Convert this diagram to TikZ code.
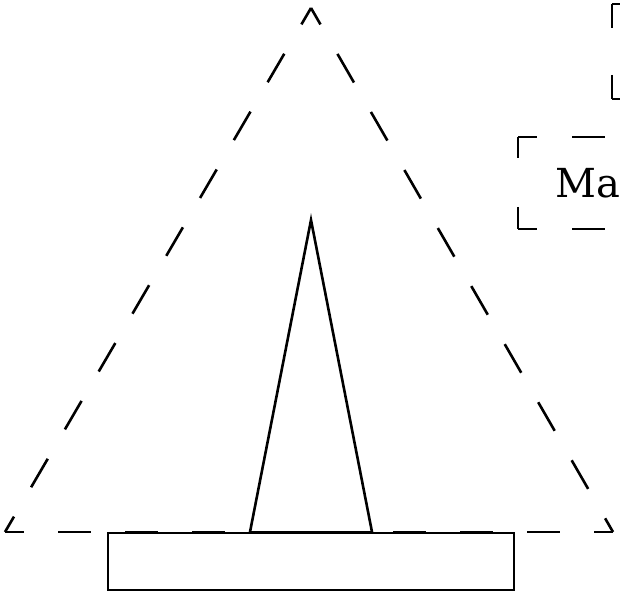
\documentclass[tikz,border=0pt]{standalone}
\usepackage{fontspec}
\newfontfamily\labelfont{DejaVu Serif}
\begin{document}
\begin{tikzpicture}[x=0.5pt,y=-0.5pt,
  ln/.style={line width=1.3pt,line cap=butt},
  tridash/.style={ln,dash pattern=on 16.5pt off 17pt},
  solidline/.style={ln,line join=miter},
  mabox/.style={ln,dash pattern=on 9.5pt off 17.5pt on 16.5pt off 40pt},
  mavert/.style={ln,dash pattern=on 10.5pt off 24.5pt on 11pt off 20pt},
  topvert/.style={ln,dash pattern=on 12pt off 23.5pt on 12pt off 20pt},
  tophor/.style={ln,dash pattern=on 12pt off 30pt},
  lbl/.style={inner sep=0pt,anchor=base west,font=\labelfont\fontsize{20}{24}\selectfont}]
\useasboundingbox (0,0) rectangle (620,597);
\clip (0,0) rectangle (620,597);
% outer dashed triangle
\coordinate (apex) at (311,8);
\coordinate (bl) at (5,532);
\coordinate (br) at (613,532);
\draw[tridash,dash phase=7pt] (bl) -- (br);
\draw[tridash,dash phase=7pt] (apex) -- (bl);
\draw[tridash,dash phase=7pt] (apex) -- (br);
% inner solid triangle
\coordinate (iapex) at (311,220);
\coordinate (ibl) at (250,532);
\coordinate (ibr) at (372,532);
\draw[solidline] (ibl) -- (iapex) -- (ibr);
\draw[solidline] (ibl) -- (ibr);
% base rectangle
\draw[solidline] (108,533) rectangle (514,590);
% top-right dashed box (left part only visible)
\draw[topvert] (612,4) -- (612,99);
\draw[tophor] (612,4) -- (700,4);
\draw[tophor] (612,99) -- (700,99);
% Ma box
\draw[mavert] (518,137) -- (518,229);
\draw[mabox] (518,137) -- (700,137);
\draw[mabox] (518,229) -- (700,229);
\node[lbl] (ma) at (555,198) {Ma};
\end{tikzpicture}
\end{document}
